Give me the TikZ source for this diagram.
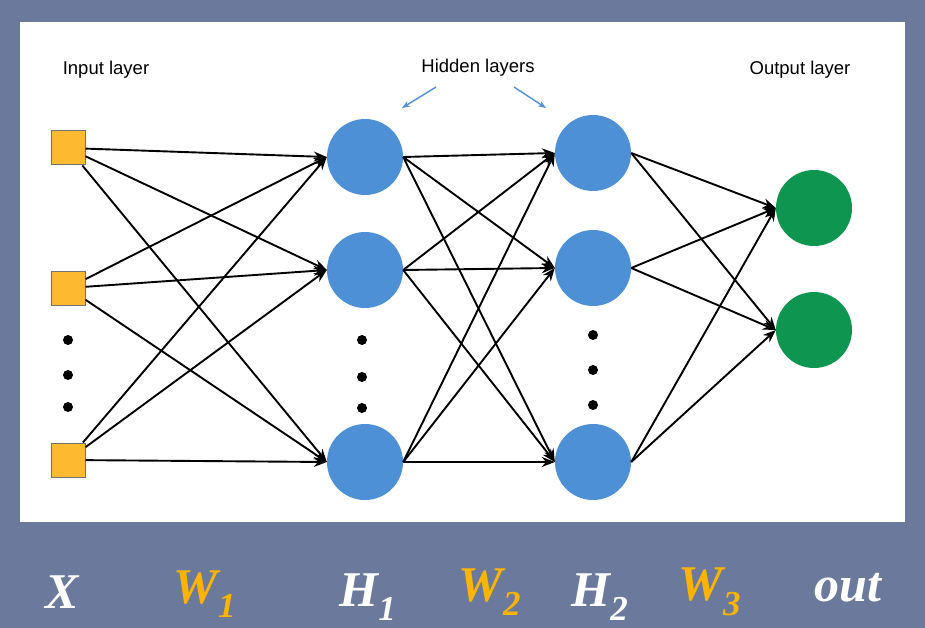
\documentclass[tikz,border=0pt]{standalone}
\usepackage{fontspec}
\setmainfont{Liberation Serif}
\newfontfamily\lsans{Liberation Sans}
\usetikzlibrary{arrows.meta}
\definecolor{bgc}{HTML}{6B7A9C}
\definecolor{sq}{HTML}{FDB92F}
\definecolor{bl}{HTML}{4D90D6}
\definecolor{gr}{HTML}{0E9650}
\definecolor{wo}{HTML}{FDB400}
\begin{document}
\begin{tikzpicture}[x=1pt,y=-1pt,
 inp/.style={draw=black!55,fill=sq,minimum size=34pt,inner sep=0,line width=1pt},
 hid/.style={circle,fill=bl,minimum size=76pt,inner sep=0},
 outn/.style={circle,fill=gr,minimum size=76pt,inner sep=0},
 dot/.style={circle,fill=black,minimum width=10pt,minimum height=8pt,inner sep=0},
 con/.style={-{Stealth[length=13pt,width=10pt]},line width=1.9pt},
 lab/.style={font=\lsans\fontsize{18.5}{22}\selectfont},
 big/.style={font=\bfseries\itshape\fontsize{50}{56}\selectfont}]
\fill[bgc] (0,0) rectangle (925,628);
\fill[white] (20,22) rectangle (905,522);
\useasboundingbox (0,0) rectangle (925,628);
\node[inp] (i1) at (68,148) {};
\node[inp] (i2) at (68,288) {};
\node[inp] (i3) at (68,460) {};
\node[hid] (a1) at (365,157) {};
\node[hid] (a2) at (365,270) {};
\node[hid] (a3) at (365,462) {};
\node[hid] (b1) at (593,153) {};
\node[hid] (b2) at (593,268) {};
\node[hid] (b3) at (593,462) {};
\node[outn] (o1) at (814,208) {};
\node[outn] (o2) at (814,330) {};
\foreach \y [count=\k] in {340,375,407}{\node[dot] (di\k) at (68,\y) {};}
\foreach \y [count=\k] in {340,377,408}{\node[dot] (da\k) at (362,\y) {};}
\foreach \y [count=\k] in {335,370,405}{\node[dot] (db\k) at (593,\y) {};}
\foreach \s in {i1,i2,i3}{\foreach \t in {a1,a2,a3}{\draw[con] (\s) -- (\t.west);}}
\foreach \s in {a1,a2,a3}{\foreach \t in {b1,b2,b3}{\draw[con] (\s.east) -- (\t.west);}}
\foreach \s in {b1,b2,b3}{\foreach \t in {o1,o2}{\draw[con] (\s.east) -- (\t.west);}}
\node[lab] (t1) at (106,70) {Input layer};
\node[lab] (t2) at (478,68) {Hidden layers};
\node[lab] (t3) at (800,70) {Output layer};
\coordinate (h1s) at (436,87); \coordinate (h1e) at (402,108);
\coordinate (h2s) at (514,87); \coordinate (h2e) at (546,108);
\draw[-{Stealth[length=8pt]},bl,line width=1.4pt] (h1s) -- (h1e);
\draw[-{Stealth[length=8pt]},bl,line width=1.4pt] (h2s) -- (h2e);
\node[big,white] (x) at (62,592) {X};
\node[big,wo] (w1) at (205,594) {W\textsubscript{1}};
\node[big,white] (hh1) at (368,597) {H\textsubscript{1}};
\node[big,wo] (w2) at (490,592) {W\textsubscript{2}};
\node[big,white] (hh2) at (600,597) {H\textsubscript{2}};
\node[big,wo] (w3) at (710,592) {W\textsubscript{3}};
\node[big,white] (ot) at (848,588) {out};
\end{tikzpicture}
\end{document}
